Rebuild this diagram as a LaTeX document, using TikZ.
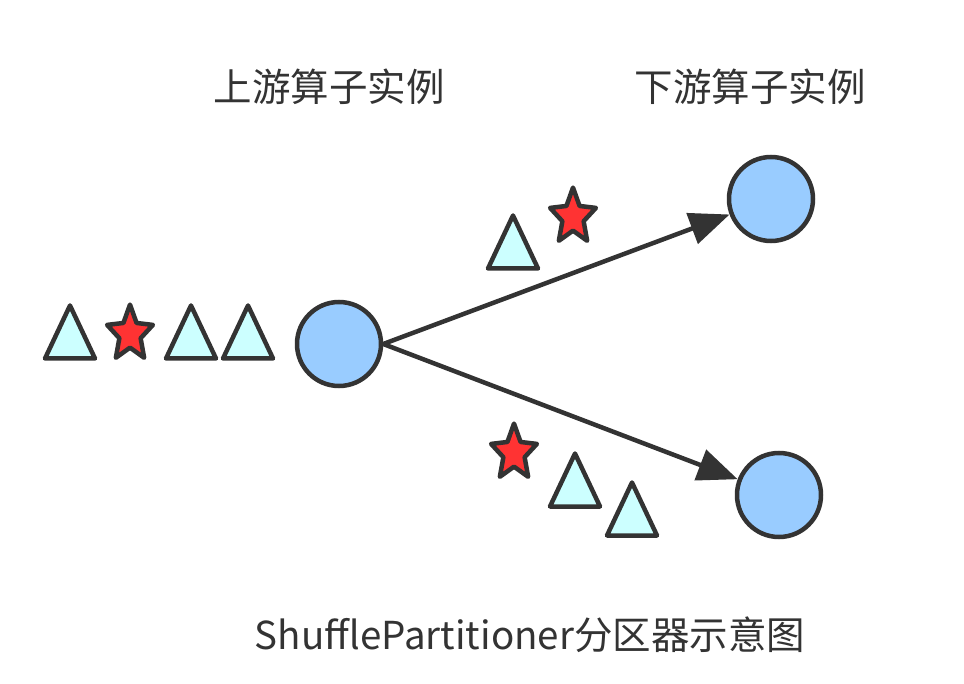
\documentclass[tikz,border=0pt]{standalone}
\usepackage{fontspec}
\setmainfont{Noto Sans CJK SC}
\usetikzlibrary{arrows.meta}
\definecolor{ink}{HTML}{333333}
\definecolor{trifill}{HTML}{CCFFFF}
\definecolor{starfill}{HTML}{FF3333}
\definecolor{circfill}{HTML}{99CCFF}
\tikzset{
  inst/.style={circle, draw=ink, fill=circfill, line width=4.5pt, minimum size=84pt, inner sep=0pt},
  flow/.style={draw=ink, line width=4.5pt, -{Triangle[length=40pt,width=32pt]}},
  label/.style={text=ink, font=\fontsize{38.5pt}{42pt}\selectfont, inner sep=0pt},
  pics/tri/.style={code={\draw[draw=ink, fill=trifill, line width=4.5pt, line join=round] (-25,26.5) -- (0,-26.5) -- (25,26.5) -- cycle;}},
  pics/starsym/.style={code={\draw[draw=ink, fill=starfill, line width=4.5pt, line join=round, xscale=0.86, yscale=1.05]
     (-90:28) -- (-54:13) -- (-18:28) -- (18:13) -- (54:28) -- (90:13) -- (126:28) -- (162:13) -- (198:28) -- (234:13) -- cycle;}}
}
\begin{document}
\begin{tikzpicture}[x=1pt,y=-1pt]
\useasboundingbox (0,0) rectangle (964,684);
% titles
\node[label] (up) at (329,87) {上游算子实例};
\node[label] (down) at (750,87) {下游算子实例};
\node[label] (cap) at (530,635) {ShufflePartitioner分区器示意图};
% instances
\node[inst] (u) at (339,344) {};
\node[inst] (d1) at (771,199) {};
\node[inst] (d2) at (779,495) {};
\draw[flow] (u.east) -- (d1);
\draw[flow] (u.east) -- (d2);
% records before upstream
\pic at (70,332) {tri};
\pic at (130,334) {starsym};
\pic at (191,332) {tri};
\pic at (248,332) {tri};
% records to downstream 1
\pic at (513,242) {tri};
\pic at (573,217) {starsym};
% records to downstream 2
\pic at (514,453) {starsym};
\pic at (575,480) {tri};
\pic at (632,509) {tri};
\end{tikzpicture}
\end{document}
